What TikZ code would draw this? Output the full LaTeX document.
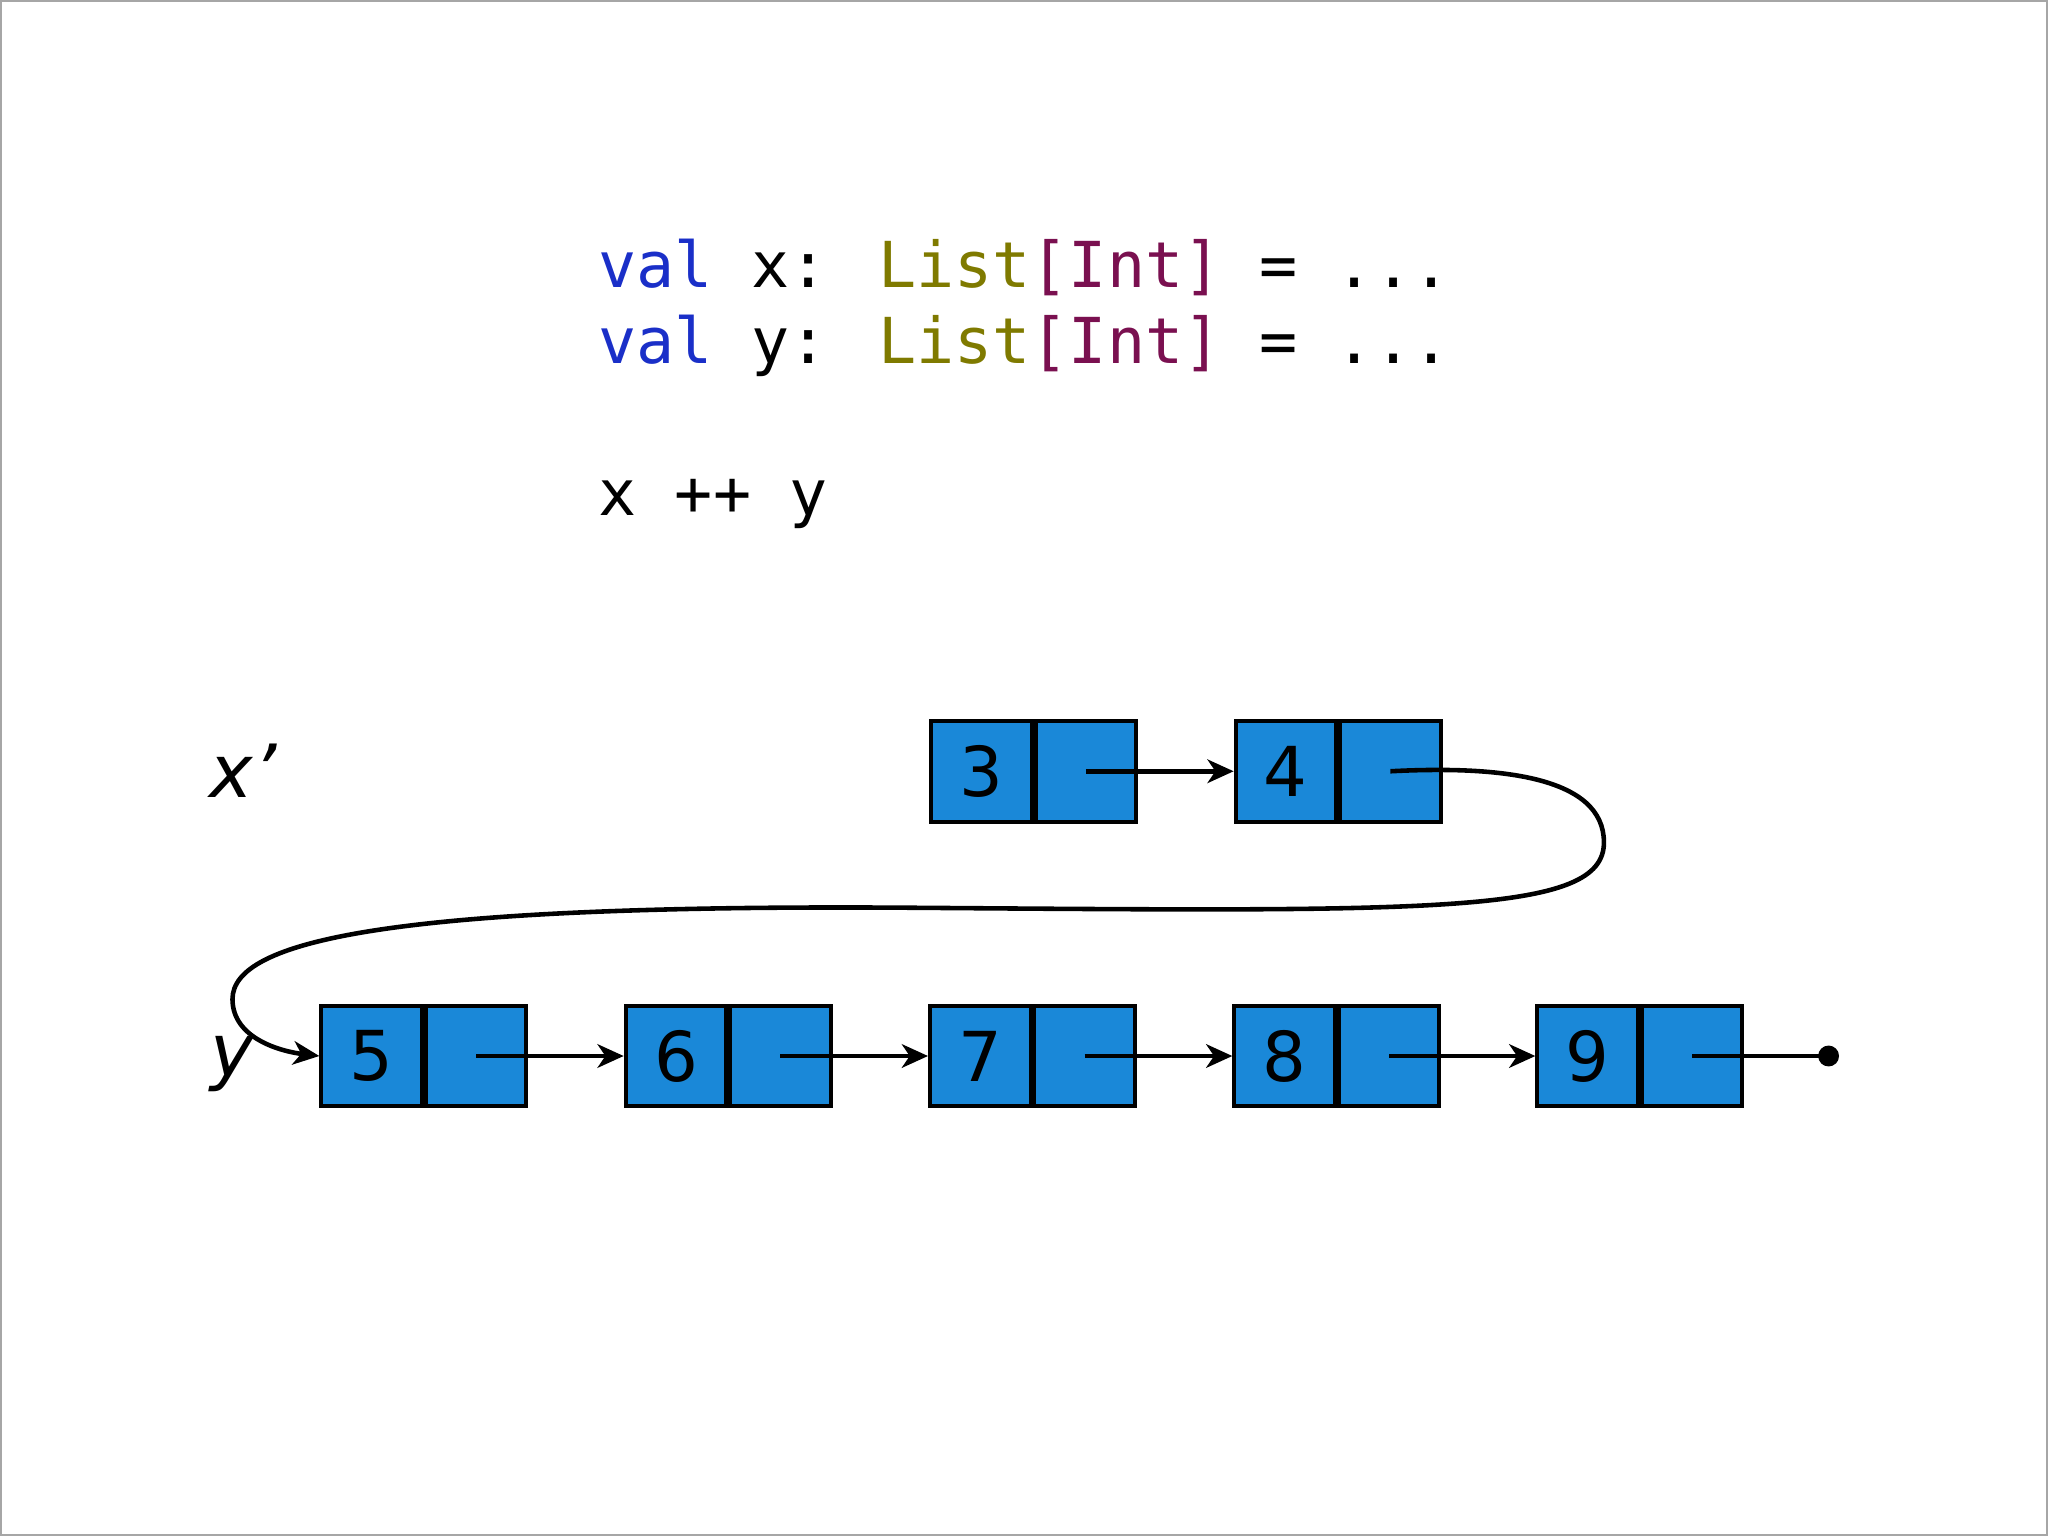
\documentclass[tikz,border=0pt]{standalone}
\usepackage{fontspec}
\setmainfont{DejaVu Sans}
\newfontfamily\codefont{DejaVu Sans Mono}
\usetikzlibrary{arrows.meta}
\definecolor{cellblue}{HTML}{1A88D8}
\definecolor{kwblue}{HTML}{1A2FC8}
\definecolor{olive}{HTML}{7F7A00}
\definecolor{plum}{HTML}{7A1050}
\begin{document}
\begin{tikzpicture}[x=0.02cm,y=-0.02cm,
  cell/.style={draw=black,fill=cellblue,line width=0.06cm,minimum width=1.54cm,minimum height=1.54cm,inner sep=0pt,font=\fontsize{30}{32}\selectfont},
  link/.style={line width=0.07cm,-{Stealth[length=0.4cm,width=0.36cm,inset=0.12cm]}},
  code/.style={anchor=base west,inner sep=0pt,font=\codefont\fontsize{27.6}{30}\selectfont},
  lab/.style={font=\itshape\fontsize{32}{34}\selectfont}]
\useasboundingbox (0,0) rectangle (1568,1176);
\draw[gray!70,line width=0.03cm] (1,1) rectangle (1567,1175);
\node[code] (c1) at (458,220) {\textcolor{kwblue}{val} x: \textcolor{olive}{List}\textcolor{plum}{[Int]} = ...};
\node[code] (c2) at (458,278) {\textcolor{kwblue}{val} y: \textcolor{olive}{List}\textcolor{plum}{[Int]} = ...};
\node[code] (c3) at (458,395) {x ++ y};
\node[lab] (xl) at (186,590) {x’};
\node[lab] (yl) at (178,815) {y};
% top row
\foreach \n/\x in {3/751.5,4/984.5}{
  \node[cell] (l\n) at (\x,590.5) {\n};
  \node[cell,anchor=west] (r\n) at (l\n.east) {};
}
\foreach \n/\x in {5/284.5,6/517.5,7/750.5,8/983.5,9/1215.5}{
  \node[cell] (l\n) at (\x,808.5) {\n};
  \node[cell,anchor=west] (r\n) at (l\n.east) {};
}
\draw[link] (r3.center) -- (l4.west);
\draw[link] (r5.center) -- (l6.west);
\draw[link] (r6.center) -- (l7.west);
\draw[link] (r7.center) -- (l8.west);
\draw[link] (r8.center) -- (l9.west);
\coordinate (end) at (1400,808.5);
\draw[line width=0.07cm] (r9.center) -- (end);
\fill (end) circle (8);
\draw[link] (r4.center) .. controls (1150,586) and (1228,595) .. (1228,645)
  .. controls (1228,700) and (1100,698) .. (700,695)
  .. controls (300,692) and (178,720) .. (178,765)
  .. controls (178,795) and (215,805) .. (l5.west);
\end{tikzpicture}
\end{document}
